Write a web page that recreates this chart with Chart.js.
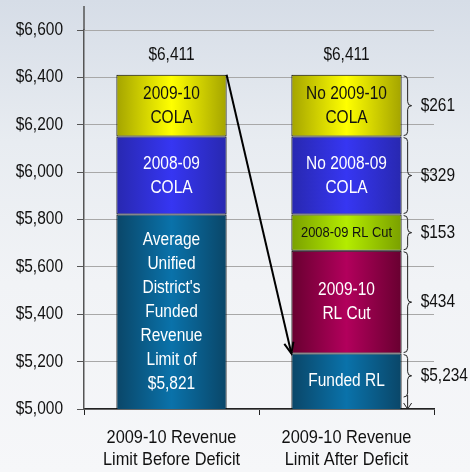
<!DOCTYPE html>
<html>
<head>
<meta charset="utf-8">
<script src="https://cdn.jsdelivr.net/npm/chart.js@4"></script>
<style>
  html, body { margin: 0; padding: 0; }
  body {
    width: 470px; height: 472px; overflow: hidden;
    background: linear-gradient(to bottom, #d6dde7 0%, #e8ecf1 30%, #f1f3f6 60%, #f6f7f9 100%);
  }
  #wrap { width: 470px; height: 472px; position: relative; }
</style>
</head>
<body>
<div id="wrap"><canvas id="rlChart"></canvas></div>
<script>
// Categorías y valores (dólares por ADA)
const categories = [["2009-10 Revenue", "Limit Before Deficit"], ["2009-10 Revenue", "Limit After Deficit"]];
const fundedRL = [5821, 5234];
const rlCut0910 = [null, 434];
const rlCut0809 = [null, 153];
const cola0809 = [329, 329];
const cola0910 = [261, 261];
const totals = [6411, 6411];
const totalLabels = ["$6,411", "$6,411"];

// Textos dentro de cada segmento
const fundedText = [["Average", "Unified", "District's", "Funded", "Revenue", "Limit of", "$5,821"], ["Funded RL"]];
const rlCut0910Text = [null, ["2009-10", "RL Cut"]];
const rlCut0809Text = [null, ["2008-09 RL Cut"]];
const cola0809Text = [["2008-09", "COLA"], ["No 2008-09", "COLA"]];
const cola0910Text = [["2009-10", "COLA"], ["No 2009-10", "COLA"]];

// Llaves a la derecha de la segunda barra
const braceLabels = ["$5,234", "$434", "$153", "$329", "$261"];

// Liberation Sans comprimida horizontalmente (tipo Arial Narrow)
const FONT = "'Liberation Sans', Arial, sans-serif";
const SX = 0.86;
const BAR_PCT = 0.9, CAT_PCT = 0.7;

function narrowText(c, str, x, y, size, color, align) {
  c.save();
  c.translate(x, y);
  c.scale(SX, 1);
  c.font = size + 'px ' + FONT;
  c.fillStyle = color;
  c.textAlign = align || 'center';
  c.textBaseline = 'middle';
  c.fillText(str, 0, 0);
  c.restore();
}

// Degradado horizontal: bordes oscuros, centro claro
function shade(edge, mid) {
  return function(ctx) {
    const chart = ctx.chart;
    const xs = chart.scales.x;
    if (!xs || !xs.width || ctx.type !== 'data') return mid;
    const cx = xs.getPixelForValue(ctx.dataIndex);
    const w = xs.width / categories.length * BAR_PCT * CAT_PCT;
    const g = chart.ctx.createLinearGradient(cx - w / 2, 0, cx + w / 2, 0);
    g.addColorStop(0, edge);
    g.addColorStop(0.5, mid);
    g.addColorStop(1, edge);
    return g;
  };
}

const datasets = [
  { label: 'Funded RL', data: fundedRL, text: fundedText, textColor: '#fff', fontSize: 18, bg: shade('#0a4668', '#0a72aa') },
  { label: '2009-10 RL Cut', data: rlCut0910, text: rlCut0910Text, textColor: '#fff', fontSize: 18, bg: shade('#680030', '#b2005c') },
  { label: '2008-09 RL Cut', data: rlCut0809, text: rlCut0809Text, textColor: '#111', fontSize: 15, bg: shade('#7aa000', '#b4ec00') },
  { label: '2008-09 COLA', data: cola0809, text: cola0809Text, textColor: '#fff', fontSize: 18, bg: shade('#2828b0', '#3636f2') },
  { label: '2009-10 COLA', data: cola0910, text: cola0910Text, textColor: '#111', fontSize: 18, bg: shade('#a4a400', '#ffff00') }
].map(d => ({
  label: d.label,
  data: d.data,
  text: d.text,
  textColor: d.textColor,
  fontSize: d.fontSize,
  backgroundColor: d.bg,
  borderColor: '#000',
  borderWidth: 1,
  borderSkipped: false,
  barPercentage: BAR_PCT,
  categoryPercentage: CAT_PCT
}));

function drawBrace(c, x, y0, y1, w) {
  const mid = (y0 + y1) / 2;
  const r = Math.min(4, (y1 - y0) / 4);
  const xm = x + w * 0.5;
  c.beginPath();
  c.moveTo(x, y0);
  c.quadraticCurveTo(xm, y0, xm, y0 + r);
  c.lineTo(xm, mid - r);
  c.quadraticCurveTo(xm, mid, x + w, mid);
  c.quadraticCurveTo(xm, mid, xm, mid + r);
  c.lineTo(xm, y1 - r);
  c.quadraticCurveTo(xm, y1, x, y1);
  c.stroke();
}

const annotations = {
  id: 'annotations',
  afterDatasetsDraw(chart) {
    const c = chart.ctx;
    const xs = chart.scales.x, ys = chart.scales.y;
    const area = chart.chartArea;
    const barW = xs.width / categories.length * BAR_PCT * CAT_PCT;
    c.save();

    // eje Y prolongado hacia arriba
    c.strokeStyle = '#555';
    c.lineWidth = 1.5;
    c.beginPath();
    c.moveTo(area.left, area.top - 24);
    c.lineTo(area.left, area.top);
    c.stroke();

    // etiquetas del eje Y
    ys.ticks.forEach(t => {
      narrowText(c, '$' + t.value.toLocaleString('en-US'), area.left - 21, ys.getPixelForValue(t.value), 18, '#111', 'right');
    });

    // etiquetas del eje X
    categories.forEach((lines, i) => {
      lines.forEach((t, k) => {
        narrowText(c, t, xs.getPixelForValue(i), area.bottom + 29 + k * 22, 19, '#111');
      });
    });

    // textos dentro de los segmentos
    chart.data.datasets.forEach((ds, di) => {
      const meta = chart.getDatasetMeta(di);
      ds.data.forEach((v, i) => {
        const lines = ds.text[i];
        if (v == null || !lines) return;
        const el = meta.data[i];
        const top = Math.max(el.y, area.top);
        const bot = Math.min(el.base, area.bottom);
        const cy = (top + bot) / 2;
        const lh = 24;
        lines.forEach((t, k) => {
          narrowText(c, t, el.x, cy + (k - (lines.length - 1) / 2) * lh, ds.fontSize, ds.textColor);
        });
      });
    });

    // totales encima de las barras
    totals.forEach((t, i) => {
      narrowText(c, totalLabels[i], xs.getPixelForValue(i), ys.getPixelForValue(t) - 20, 18, '#111');
    });

    // flecha de la barra 1 a la barra 2
    const x1 = xs.getPixelForValue(0) + barW / 2, y1 = ys.getPixelForValue(totals[0]);
    const x2 = xs.getPixelForValue(1) - barW / 2, y2 = ys.getPixelForValue(fundedRL[1]);
    c.strokeStyle = '#000';
    c.lineWidth = 2;
    c.beginPath();
    c.moveTo(x1, y1);
    c.lineTo(x2, y2);
    c.stroke();
    const ang = Math.atan2(y2 - y1, x2 - x1);
    c.beginPath();
    c.moveTo(x2 - 12 * Math.cos(ang - 0.4), y2 - 12 * Math.sin(ang - 0.4));
    c.lineTo(x2, y2);
    c.lineTo(x2 - 12 * Math.cos(ang + 0.4), y2 - 12 * Math.sin(ang + 0.4));
    c.stroke();

    // llaves y valores de la barra 2
    const bx = xs.getPixelForValue(1) + barW / 2 + 2;
    c.lineWidth = 1;
    c.strokeStyle = '#222';
    let k = 0;
    chart.data.datasets.forEach((ds, di) => {
      const v = ds.data[1];
      if (v == null) return;
      const el = chart.getDatasetMeta(di).data[1];
      let top = el.y + 1, bot = Math.min(el.base, area.bottom) - 1;
      if (di === 0) {
        bot = area.bottom - 12;
        // flecha hacia el eje
        const ax = bx + 4;
        c.beginPath();
        c.moveTo(ax, bot - 2);
        c.lineTo(ax, area.bottom);
        c.moveTo(ax - 4, area.bottom - 6);
        c.lineTo(ax, area.bottom);
        c.lineTo(ax + 4, area.bottom - 6);
        c.stroke();
      }
      drawBrace(c, bx, top, bot, 8);
      narrowText(c, braceLabels[k], bx + 17, (top + bot) / 2, 18, '#111', 'left');
      k++;
    });
    c.restore();
  }
};

const ctx = document.getElementById('rlChart').getContext('2d');
const rlChart = new Chart(ctx, {
  type: 'bar',
  data: { labels: categories, datasets: datasets },
  options: {
    responsive: true,
    maintainAspectRatio: false,
    animation: false,
    layout: { padding: { top: 30, right: 36, left: 0, bottom: 0 } },
    plugins: { legend: { display: false }, tooltip: { enabled: false } },
    scales: {
      x: {
        stacked: true,
        grid: { display: true, drawOnChartArea: false, tickLength: 6, color: '#222', offset: true },
        border: { color: '#222', width: 1.5 },
        // las etiquetas se dibujan estrechas en el plugin
        ticks: { color: 'rgba(0,0,0,0)', padding: 12, maxRotation: 0, font: { family: FONT, size: 12 } },
        afterFit(scale) { scale.height = 63; }
      },
      y: {
        stacked: true,
        min: 5000,
        max: 6600,
        grid: { color: '#a8a8a8', lineWidth: 1, tickLength: 7, tickColor: '#555' },
        border: { color: '#555', width: 1.5 },
        ticks: {
          stepSize: 200,
          padding: 14,
          color: 'rgba(0,0,0,0)',
          font: { family: FONT, size: 12 },
          callback: v => '$' + v.toLocaleString('en-US')
        },
        afterFit(scale) { scale.width = 84; }
      }
    }
  },
  plugins: [annotations]
});
</script>
</body>
</html>
